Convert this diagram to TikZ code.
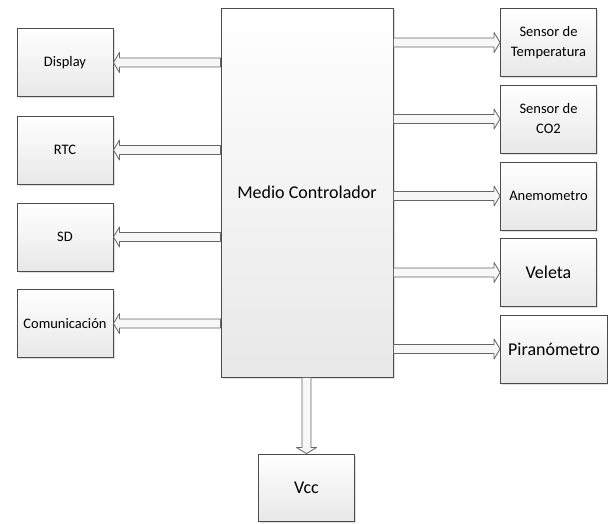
\documentclass[tikz,border=0pt]{standalone}
\usepackage{fontspec}
\setmainfont{Carlito}
\usetikzlibrary{calc,shadows}
\newcommand{\smalltxt}{\fontsize{14.5}{20}\selectfont}
\newcommand{\bigtxt}{\fontsize{18}{22}\selectfont}
\begin{document}
\begin{tikzpicture}[x=1pt,y=-1pt,
  block/.style={draw=black!70,line width=0.9pt,top color=white,bottom color=black!9,
    drop shadow={opacity=0.25,shadow xshift=1.5pt,shadow yshift=-1.5pt},
    minimum width=96pt,minimum height=68pt,inner sep=1pt,align=center,font=\smalltxt},
  bus/.style={draw=black!60,line width=0.8pt,fill=black!3,line join=round,
    to path={let \p1=($(\tikztotarget)!6pt!(\tikztostart)$) in
      ($(\tikztostart)!4.5pt!90:(\tikztotarget)$)
      -- ($(\p1)!4.5pt!-90:(\tikztostart)$)
      -- ($(\p1)!10pt!-90:(\tikztostart)$)
      -- (\tikztotarget)
      -- ($(\p1)!10pt!90:(\tikztostart)$)
      -- ($(\p1)!4.5pt!90:(\tikztostart)$)
      -- ($(\tikztostart)!4.5pt!-90:(\tikztotarget)$) -- cycle}}]
\useasboundingbox (0,0) rectangle (608,523);
% centro
\node[block,minimum width=172pt,minimum height=369pt,font=\bigtxt] (ctrl) at (307,192.5) {Medio Controlador};
% izquierda
\node[block] (disp) at (65,62.5) {Display};
\node[block] (rtc) at (65,150) {RTC};
\node[block] (sd) at (65,237) {SD};
\node[block] (com) at (65,323.5) {Comunicación};
% derecha
\node[block] (temp) at (548.5,42.5) {Sensor de\\Temperatura};
\node[block] (co2) at (548.5,119) {Sensor de\\CO2};
\node[block] (anem) at (548.5,196) {Anemometro};
\node[block,font=\bigtxt] (vel) at (548.5,272.5) {Veleta};
\node[block,minimum width=107pt,font=\bigtxt] (pir) at (554,349) {Piranómetro};
% abajo
\node[block,minimum height=67pt,font=\bigtxt] (vcc) at (306.5,487.5) {Vcc};
% buses
\foreach \blk in {disp,rtc,sd,com}
  \draw[bus] (ctrl.west |- \blk) to (\blk.east);
\foreach \blk in {temp,co2,anem,vel,pir}
  \draw[bus] (ctrl.east |- \blk) to (\blk.west);
\draw[bus] (ctrl.south -| vcc) to (vcc.north);
\end{tikzpicture}
\end{document}
